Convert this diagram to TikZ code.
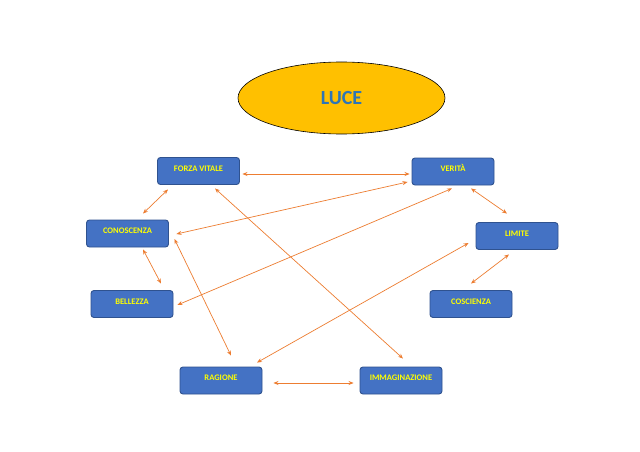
\documentclass[tikz,border=0pt]{standalone}
\usepackage{fontspec}
\setmainfont{Carlito}
\usetikzlibrary{arrows.meta,shapes.geometric,calc}
\definecolor{boxfill}{HTML}{4472C4}
\definecolor{boxdraw}{HTML}{2F528F}
\definecolor{txtyel}{HTML}{FFFF00}
\definecolor{arrorange}{HTML}{ED7D31}
\definecolor{lucefill}{HTML}{FFC000}
\definecolor{luceblue}{HTML}{2E75B6}
\tikzset{
  boxnode/.style={rectangle, rounded corners=3pt, draw=boxdraw, line width=0.9pt, fill=boxfill,
    minimum width=82pt, minimum height=27pt, inner sep=0pt, text height=5.5pt, text depth=5pt,
    font=\bfseries\fontsize{8.5}{9}\selectfont, text=txtyel},
  link/.style={draw=arrorange, line width=0.7pt,
    {Stealth[length=5pt,width=4pt]}-{Stealth[length=5pt,width=4pt]}}
}
\begin{document}
\begin{tikzpicture}[x=1pt,y=-1pt]
\useasboundingbox (0,0) rectangle (640,452);
\fill[white] (0,0) rectangle (640,452);
\node[ellipse, draw=black, line width=0.6pt, fill=lucefill, minimum width=207pt, minimum height=72pt,
  font=\bfseries\fontsize{20}{22}\selectfont, text=luceblue] (luce) at (341.5,98) {LUCE};
\node[boxnode] (fv)  at (198.5,171)   {FORZA VITALE};
\node[boxnode] (con) at (127.5,233.5) {CONOSCENZA};
\node[boxnode] (bel) at (132,304)     {BELLEZZA};
\node[boxnode] (ver) at (453,171.5)   {VERITÀ};
\node[boxnode] (lim) at (517,236)     {LIMITE};
\node[boxnode] (cos) at (471,304)     {COSCIENZA};
\node[boxnode] (rag) at (221,380.5)   {RAGIONE};
\node[boxnode] (imm) at (401,380.5)   {IMMAGINAZIONE};
\draw[link] ($(fv.east)+(2.5,3)$) -- ($(ver.west)+(-2,2.5)$);
\draw[link] ($(fv.south)+(-30.5,4.5)$) -- ($(con.north)+(15.5,-6)$);
\draw[link] ($(con.east)+(7.5,0.5)$) -- ($(ver.west)+(-4,10.5)$);
\draw[link] ($(con.south)+(15.5,2)$) -- ($(bel.north)+(29,-6.5)$);
\draw[link] ($(bel.east)+(4,1)$) -- ($(ver.south)+(-1,3)$);
\draw[link] ($(fv.south)+(16.5,3.5)$) -- ($(imm.north)+(2,-8)$);
\draw[link] ($(con.east)+(5.5,5.5)$) -- ($(rag.north)+(10,-11)$);
\draw[link] ($(rag.north)+(36,-4)$) -- ($(lim.west)+(-7,7)$);
\draw[link] ($(ver.south)+(18,3)$) -- ($(lim.north)+(-10,-8.5)$);
\draw[link] ($(lim.south)+(-8,4.5)$) -- ($(cos.north)+(0,-6.5)$);
\draw[link] ($(rag.east)+(11,2.5)$) -- ($(imm.west)+(-6,2.5)$);
\end{tikzpicture}
\end{document}
